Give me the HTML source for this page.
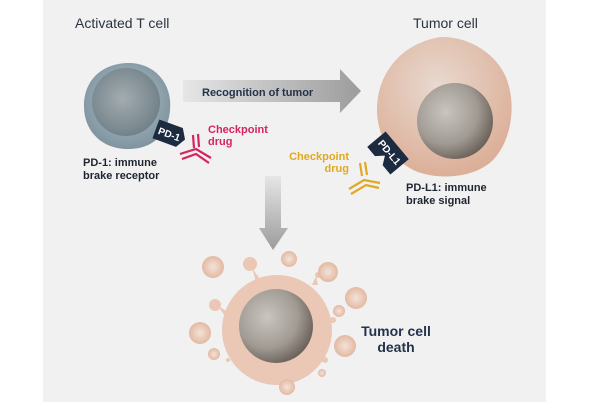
<!DOCTYPE html>
<html><head><meta charset="utf-8"><style>
html,body{margin:0;padding:0;background:#fff;}
body{width:604px;height:402px;overflow:hidden;position:relative;font-family:"Liberation Sans",sans-serif;}
</style></head><body>
<svg width="604" height="402" viewBox="0 0 604 402" xmlns="http://www.w3.org/2000/svg">
<defs>
<radialGradient id="tc" cx="0.5" cy="0.45" r="0.55"><stop offset="0.7" stop-color="#8fa3ad"/><stop offset="1" stop-color="#7f949f"/></radialGradient>
<radialGradient id="tn" cx="0.45" cy="0.45" r="0.6"><stop offset="0" stop-color="#a3acb0"/><stop offset="1" stop-color="#6f7f87"/></radialGradient>
<radialGradient id="tu" cx="0.45" cy="0.35" r="0.65"><stop offset="0" stop-color="#e8d9cf"/><stop offset="1" stop-color="#dcaf98"/></radialGradient>
<radialGradient id="nu" cx="0.38" cy="0.38" r="0.7"><stop offset="0" stop-color="#c9c6bf"/><stop offset="0.6" stop-color="#a09a93"/><stop offset="1" stop-color="#625850"/></radialGradient>
<radialGradient id="bl" cx="0.5" cy="0.5" r="0.5"><stop offset="0" stop-color="#f3e3d8"/><stop offset="1" stop-color="#e3b9a3"/></radialGradient>
<linearGradient id="ah" x1="0" x2="1"><stop offset="0" stop-color="#e6e6e6"/><stop offset="1" stop-color="#9c9c9c"/></linearGradient>
<linearGradient id="av" x1="0" y1="0" x2="0" y2="1"><stop offset="0" stop-color="#e6e6e6"/><stop offset="1" stop-color="#9c9c9c"/></linearGradient>
</defs>
<rect x="43" y="0" width="503" height="402" fill="#f1f1f1"/>
<text x="75" y="28" font-size="14" fill="#2a3340">Activated T cell</text>
<text x="413" y="28" font-size="14" fill="#2a3340">Tumor cell</text>
<path d="M127,63 C150,62 168,78 170,100 C172,125 160,148 130,149 C103,150 84,132 84,106 C84,80 102,64 127,63Z" fill="url(#tc)"/>
<circle cx="126" cy="102" r="34" fill="url(#tn)"/>
<path d="M183,80 L340,80 L340,69 L361,91 L340,113 L340,102 L183,102Z" fill="url(#ah)"/>
<text x="202" y="96" font-size="11" font-weight="bold" fill="#24324a">Recognition of tumor</text>
<g transform="translate(170,134) rotate(20)"><path d="M-15,-10 L10,-10 L16,0 L10,10 L-15,10 Z" fill="#1c2b40"/><text x="-12" y="4" font-size="10" font-weight="bold" fill="#fff">PD-1</text></g>
<g stroke="#d6245f" stroke-width="2.2" fill="none"><path d="M193,135 L194,148 M198,134 L199,147 M180,154 L196,149 L211,158 M182,159 L196,154 L209,163"/></g>
<text x="208" y="133" font-size="11" font-weight="bold" fill="#d6245f">Checkpoint</text>
<text x="208" y="145" font-size="11" font-weight="bold" fill="#d6245f">drug</text>
<text x="83" y="166" font-size="11" font-weight="bold" fill="#1e2530">PD-1: immune</text>
<text x="83" y="179" font-size="11" font-weight="bold" fill="#1e2530">brake receptor</text>
<path d="M440,37 C470,36 498,55 507,80 C516,105 512,140 493,160 C475,178 440,180 418,172 C395,163 378,140 377,112 C376,80 395,45 440,37Z" fill="url(#tu)"/>
<circle cx="455" cy="121" r="38" fill="url(#nu)"/>
<g transform="translate(388,153) rotate(50)"><path d="M-18,-12 L18,-12 L18,12 L6,12 L0,4 L-6,12 L-18,12Z" fill="#1c2b40"/><text x="-14" y="2" font-size="10" font-weight="bold" fill="#fff">PD-L1</text></g>
<g stroke="#e0a823" stroke-width="2.2" fill="none"><path d="M360,163 L362,176 M365,162 L367,175 M349,189 L364,180 L380,183 M351,194 L366,185 L379,188"/></g>
<text x="349" y="160" font-size="11" font-weight="bold" fill="#e0a823" text-anchor="end">Checkpoint</text>
<text x="349" y="172" font-size="11" font-weight="bold" fill="#e0a823" text-anchor="end">drug</text>
<text x="406" y="191" font-size="11" font-weight="bold" fill="#1e2530">PD-L1: immune</text>
<text x="406" y="204" font-size="11" font-weight="bold" fill="#1e2530">brake signal</text>
<path d="M265,176 L281,176 L281,228 L288,228 L273,250 L259,228 L265,228Z" fill="url(#av)"/>
<g fill="#ebc7b5">
<circle cx="277" cy="330" r="55"/>
<circle cx="250" cy="264" r="7"/><path d="M252,268 L262,282 L257,285Z"/>
<circle cx="215" cy="305" r="6"/><path d="M218,306 L228,312 L225,316Z"/>
<circle cx="318" cy="275" r="3"/><path d="M316,276 L312,285 L318,285Z"/>
<circle cx="333" cy="320" r="3"/><circle cx="325" cy="360" r="3"/><circle cx="228" cy="360" r="2"/>
</g>
<g fill="url(#bl)">
<circle cx="213" cy="267" r="11"/><circle cx="289" cy="259" r="8"/><circle cx="328" cy="272" r="10"/>
<circle cx="356" cy="298" r="11"/><circle cx="339" cy="311" r="6"/><circle cx="200" cy="333" r="11"/>
<circle cx="345" cy="346" r="11"/><circle cx="214" cy="354" r="6"/><circle cx="322" cy="373" r="4"/>
<circle cx="287" cy="387" r="8"/>
</g>
<circle cx="276" cy="326" r="37" fill="url(#nu)"/>
<text x="396" y="336" font-size="14" font-weight="bold" fill="#24324a" text-anchor="middle">Tumor cell</text>
<text x="396" y="352" font-size="14" font-weight="bold" fill="#24324a" text-anchor="middle">death</text>
</svg>
</body></html>
